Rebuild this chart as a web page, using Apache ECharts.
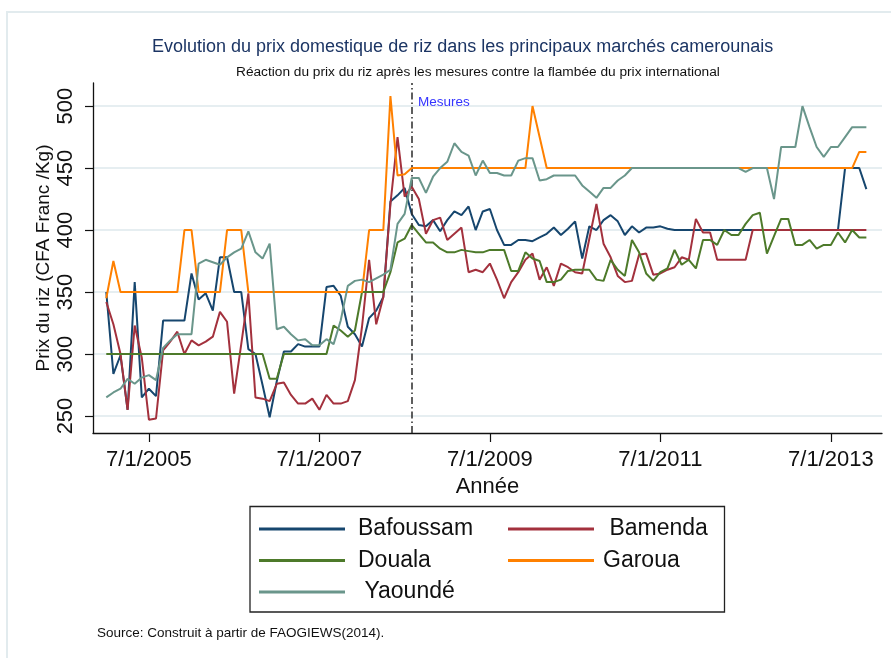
<!DOCTYPE html>
<html>
<head>
<meta charset="utf-8">
<script src="https://cdn.jsdelivr.net/npm/echarts@6/dist/echarts.min.js"></script>
<style>
html,body{margin:0;padding:0;background:#fff;}
#chart{width:891px;height:658px;}
</style>
</head>
<body>
<div id="chart"></div>
<script>
// Monthly observations, January 2005 (index 0) to December 2013 (index 107)
const seriesNames = ['Bafoussam', 'Bamenda', 'Douala', 'Garoua', 'Yaoundé'];

const bafoussam = [350,284,299,255,358,265,272,266,327,327,327,327,365,344,349,335,378,378,350,350,
  304,300,275,249,278,302,302,308,306,306,306,354,355,347,322,316,306,329,335,346,
  423,428,434,413,404,403,408,399,408,415,412,419,400,415,417,400,388,388,392,392,
  391,394,397,402,396,401,407,377,403,400,408,412,407,396,403,398,402,402,403,401,
  400,400,400,400,400,400,400,400,400,400,400,400,400,400,400,400,400,400,400,400,
  400,400,400,400,450,450,450,433];

const bamenda = [342,324,300,255,323,297,247,248,303,310,318,300,311,307,310,314,334,326,268,308,
  349,265,264,262,276,277,267,260,260,264,255,267,260,260,262,279,322,376,324,346,
  421,475,427,435,425,397,408,410,392,397,402,366,368,366,373,360,345,358,366,376,
  381,360,370,355,373,370,366,365,393,421,389,378,363,358,359,380,381,364,365,368,
  370,378,376,409,398,398,376,376,376,376,376,400,400,400,400,400,400,400,400,400,
  400,400,400,400,400,400,400,400];

const douala = [300,300,300,300,300,300,300,300,300,300,300,300,300,300,300,300,300,300,300,300,
  300,300,300,280,280,300,300,300,300,300,300,300,323,319,314,319,350,350,350,350,
  366,390,393,404,397,390,390,385,382,382,384,383,382,382,384,384,384,367,367,382,
  377,375,358,358,360,367,368,368,368,360,359,376,368,363,392,382,365,359,366,369,
  384,372,376,369,392,392,388,400,396,396,405,412,414,381,395,409,409,388,388,392,
  385,388,388,398,390,400,394,394];

const garoua = [345,375,350,350,350,350,350,350,350,350,350,400,400,350,350,350,350,400,400,400,
  350,350,350,350,350,350,350,350,350,350,350,350,350,350,350,350,350,400,400,400,
  508,444,445,450,450,450,450,450,450,450,450,450,450,450,450,450,450,450,450,450,
  500,475,450,450,450,450,450,450,450,450,450,450,450,450,450,450,450,450,450,450,
  450,450,450,450,450,450,450,450,450,450,450,450,450,450,450,450,450,450,450,450,
  450,450,450,450,450,450,463,463];

const yaounde = [265,269,272,280,276,281,283,279,305,311,316,316,316,373,376,374,372,378,382,385,
  399,382,377,389,320,322,316,311,312,307,307,312,308,327,355,359,360,358,361,364,
  368,405,413,442,442,430,443,450,455,470,463,460,444,456,446,446,444,444,456,458,
  458,440,441,444,444,444,444,436,431,426,434,434,440,444,450,450,450,450,450,450,
  450,450,450,450,450,450,450,450,450,450,447,450,450,450,425,467,467,467,500,483,
  467,459,467,467,475,483,483,483];

const tickMonths = [6, 30, 54, 78, 102];
const tickLabels = ['7/1/2005', '7/1/2007', '7/1/2009', '7/1/2011', '7/1/2013'];
const yTicks = [250, 300, 350, 400, 450, 500];
const mesuresMonth = 43;

const colors = ['#16466e', '#a3313d', '#4d7a2a', '#ff8000', '#6a968b'];
const FONT = "'Liberation Sans', Arial, sans-serif";

const allValues = [bafoussam, bamenda, douala, garoua, yaounde];

const chart = echarts.init(document.getElementById('chart'), null, {renderer: 'canvas'});

const series = allValues.map((vals, i) => {
  const s = {
    name: seriesNames[i],
    type: 'line',
    data: vals.map((v, k) => [k, v]),
    showSymbol: false,
    symbol: 'none',
    lineStyle: {width: 2, color: colors[i]},
    itemStyle: {color: colors[i]},
    z: 2 + i
  };
  if (i === 0) {
    s.markLine = {
      silent: true,
      symbol: 'none',
      label: {show: false},
      lineStyle: {color: '#2a2a2a', width: 1.5, type: [7, 3, 1.5, 3]},
      data: [{xAxis: mesuresMonth}]
    };
  }
  return s;
});

const option = {
  animation: false,
  backgroundColor: '#ffffff',
  color: colors,
  textStyle: {fontFamily: FONT},
  title: [
    {
      text: 'Evolution du prix domestique de riz dans les principaux marchés camerounais',
      left: 147, top: 33,
      textStyle: {fontSize: 18, fontWeight: 'normal', color: '#1c3564', fontFamily: FONT}
    },
    {
      text: 'Réaction du prix du riz après les mesures contre la flambée du prix international',
      left: 231, top: 60,
      textStyle: {fontSize: 13.7, fontWeight: 'normal', color: '#111', fontFamily: FONT}
    },
    {
      text: 'Source: Construit à partir de FAOGIEWS(2014).',
      left: 92, top: 621,
      textStyle: {fontSize: 13.5, fontWeight: 'normal', color: '#111', fontFamily: FONT}
    }
  ],
  grid: {left: 93, right: 9, top: 83, bottom: 225, containLabel: false},
  xAxis: {
    type: 'value',
    min: -1.87,
    max: 109.2,
    name: 'Année',
    nameLocation: 'middle',
    nameGap: 42,
    nameTextStyle: {fontSize: 22, color: '#111', fontFamily: FONT},
    axisLine: {show: true, onZero: false, lineStyle: {color: '#111', width: 1.3}},
    axisTick: {show: true, length: 9, customValues: tickMonths, lineStyle: {color: '#111', width: 1.2}},
    axisLabel: {
      customValues: tickMonths,
      fontSize: 22, color: '#111', margin: 16, fontFamily: FONT,
      formatter: v => tickLabels[tickMonths.indexOf(Math.round(v))] || ''
    },
    splitLine: {show: false}
  },
  yAxis: {
    type: 'value',
    min: 236.3,
    max: 518.6,
    name: 'Prix du riz (CFA Franc /Kg)',
    nameLocation: 'middle',
    nameRotate: 90,
    nameGap: 40,
    nameMoveOverlap: false,
    nameTextStyle: {fontSize: 19, color: '#111', fontFamily: FONT},
    axisLine: {show: true, onZero: false, lineStyle: {color: '#111', width: 1.3}},
    axisTick: {show: true, length: 8, customValues: yTicks, lineStyle: {color: '#111', width: 1.2}},
    axisLabel: {
      customValues: yTicks,
      rotate: 90, fontSize: 22, color: '#111', margin: 16, fontFamily: FONT
    },
    splitLine: {show: true, lineStyle: {color: '#e6eef1', width: 2}}
  },
  legend: [
    {
      data: ['Bafoussam', 'Douala', 'Yaoundé'],
      orient: 'vertical',
      left: 259, top: 517,
      icon: 'rect', itemWidth: 86, itemHeight: 3, itemGap: 7.5,
      padding: 0,
      formatter: n => (n === 'Yaoundé' ? ' ' + n : n),
      textStyle: {fontSize: 23, color: '#111', lineHeight: 24, padding: [0, 0, 0, 8], fontFamily: FONT}
    },
    {
      data: ['Bamenda', 'Garoua'],
      orient: 'vertical',
      left: 508, top: 517,
      icon: 'rect', itemWidth: 86, itemHeight: 3, itemGap: 7.5,
      padding: 0,
      formatter: n => (n === 'Bamenda' ? ' ' + n : n),
      textStyle: {fontSize: 23, color: '#111', lineHeight: 24, padding: [0, 0, 0, 4], fontFamily: FONT}
    }
  ],
  graphic: [
    {
      type: 'rect', silent: true, z: -1,
      shape: {x: 7, y: 12, width: 900, height: 700},
      style: {fill: 'none', stroke: '#e2ebee', lineWidth: 2}
    },
    {
      type: 'rect', silent: true,
      shape: {x: 250, y: 506.5, width: 474.5, height: 105.5},
      style: {fill: 'none', stroke: '#222', lineWidth: 1.3}
    },
    {
      type: 'text', silent: true, z: 10,
      x: 418, y: 95,
      style: {text: 'Mesures', fill: '#3535ff', fontSize: 13.5, fontFamily: FONT}
    }
  ],
  series: series
};

chart.setOption(option);
</script>
</body>
</html>
